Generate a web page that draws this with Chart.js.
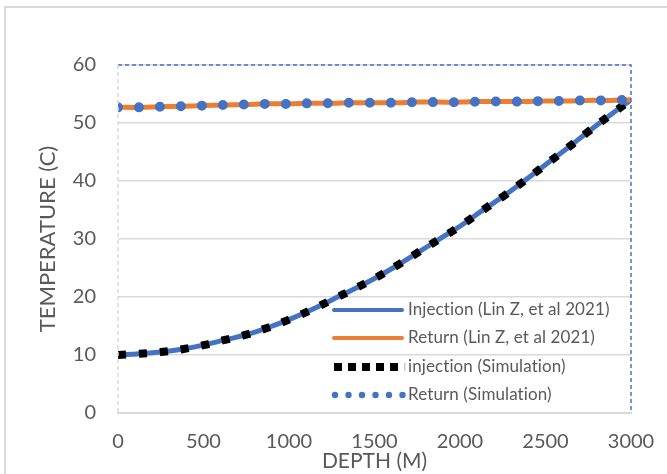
<!DOCTYPE html>
<html>
<head>
<meta charset="utf-8">
<script src="https://cdn.jsdelivr.net/npm/chart.js@4"></script>
<style>
  html, body { margin: 0; padding: 0; background: #fff; }
  #wrap { width: 667px; height: 474px; }
</style>
</head>
<body>
<div id="wrap"><canvas id="myChart" width="667" height="474"></canvas></div>
<script>
var depth = [0, 125, 250, 375, 500, 625, 750, 875, 1000, 1125, 1250, 1375, 1500,
             1625, 1750, 1875, 2000, 2125, 2250, 2375, 2500, 2625, 2750, 2875, 3000];

// Lin Z, et al 2021
var injectionLin = [10.0, 10.2, 10.5, 11.0, 11.7, 12.6, 13.5, 14.7, 16.1, 17.7, 19.5, 21.3, 23.2,
                    25.3, 27.6, 29.9, 32.2, 34.8, 37.3, 40.0, 42.8, 45.6, 48.5, 51.3, 54.0];
var returnLin = [52.7, 52.7, 52.8, 52.9, 53.0, 53.1, 53.2, 53.3, 53.3, 53.4, 53.4, 53.5, 53.5,
                 53.5, 53.6, 53.6, 53.6, 53.7, 53.7, 53.7, 53.8, 53.8, 53.9, 53.9, 54.0];

// Simulation
var injectionSim = [10.0, 10.2, 10.5, 11.0, 11.7, 12.6, 13.5, 14.7, 16.1, 17.7, 19.5, 21.3, 23.2,
                    25.3, 27.6, 29.9, 32.2, 34.8, 37.3, 40.0, 42.8, 45.6, 48.5, 51.3, 54.0];
var returnSim = [52.7, 52.7, 52.8, 52.9, 53.0, 53.1, 53.2, 53.3, 53.3, 53.4, 53.4, 53.5, 53.5,
                 53.5, 53.6, 53.6, 53.6, 53.7, 53.7, 53.7, 53.8, 53.8, 53.9, 53.9, 54.0];

var xTicks = [0, 500, 1000, 1500, 2000, 2500, 3000];
var yTicks = [0, 10, 20, 30, 40, 50, 60];

function pts(ys) {
    return depth.map(function (d, i) { return { x: d, y: ys[i] }; });
}

var fontFamily = "Lato, 'Open Sans', sans-serif";
var textColor = "#595959";

var data = {
    datasets: [
        {
            label: "Injection (Lin Z, et al 2021)",
            data: pts(injectionLin),
            borderColor: "#4472C4",
            borderWidth: 5,
            pointRadius: 0,
            tension: 0.4,
            order: 4
        },
        {
            label: "Return (Lin Z, et al 2021)",
            data: pts(returnLin),
            borderColor: "#ED7D31",
            borderWidth: 5,
            pointRadius: 0,
            tension: 0.4,
            order: 3
        },
        {
            label: "injection (Simulation)",
            data: pts(injectionSim),
            borderColor: "#000000",
            borderWidth: 8,
            borderDash: [8, 13],
            borderCapStyle: "butt",
            pointRadius: 0,
            tension: 0.4,
            order: 2
        },
        {
            label: "Return (Simulation)",
            data: pts(returnSim),
            borderColor: "#4472C4",
            borderWidth: 10,
            borderDash: [0, 21],
            borderCapStyle: "round",
            pointRadius: 0,
            tension: 0.4,
            order: 1
        }
    ]
};

// frame, dashed plot border and the legend sitting inside the plot
var decorations = {
    id: "decorations",
    beforeDraw: function (chart) {
        var c = chart.ctx;
        c.save();
        c.fillStyle = "#fff";
        c.fillRect(0, 0, chart.width, chart.height);
        c.strokeStyle = "#d9d9d9";
        c.lineWidth = 2;
        c.beginPath();
        c.moveTo(5, chart.height);
        c.lineTo(5, 7);
        c.lineTo(chart.width, 7);
        c.stroke();
        c.restore();
    },
    afterDraw: function (chart) {
        var c = chart.ctx;
        var a = chart.chartArea;
        c.save();
        c.setLineDash([4, 3]);
        c.lineWidth = 1.5;
        c.strokeStyle = "#4472C4";
        c.beginPath();
        c.moveTo(a.left, a.top);
        c.lineTo(a.right, a.top);
        c.lineTo(a.right, a.bottom);
        c.stroke();
        c.strokeStyle = "#d4dbe8";
        c.beginPath();
        c.moveTo(a.left, a.top);
        c.lineTo(a.left, a.bottom);
        c.stroke();

        // legend
        var rows = [310, 338, 367, 395];
        var x0 = 332, x1 = 402, tx = 408;
        c.font = "17px " + fontFamily;
        c.letterSpacing = "0.1px";
        c.textBaseline = "middle";
        chart.data.datasets.forEach(function (ds, i) {
            var y = rows[i];
            c.save();
            c.setLineDash([]);
            c.strokeStyle = ds.borderColor;
            if (i < 2) {
                c.lineWidth = 4;
                c.lineCap = "round";
                c.beginPath(); c.moveTo(x0 + 2, y); c.lineTo(x1, y); c.stroke();
            } else if (i === 2) {
                c.fillStyle = "#000";
                for (var k = 0; k < 5; k++) c.fillRect(x0 + 2 + k * 14, y - 4, 8, 8);
                c.fillStyle = "#ccc";
                c.fillRect(x0 + 2 + 5 * 14, y - 4, 1.5, 8);
            } else {
                c.fillStyle = ds.borderColor;
                for (var k = 0; k < 6; k++) {
                    c.beginPath(); c.arc(x0 + 3 + k * 13.5, y, 3.2, 0, Math.PI * 2); c.fill();
                }
            }
            c.restore();
            c.fillStyle = textColor;
            c.fillText(ds.label, tx, y);
        });
        c.restore();
    }
};

var ctx = document.getElementById("myChart").getContext("2d");
var myLineChart = new Chart(ctx, {
    type: "line",
    data: data,
    plugins: [decorations],
    options: {
        responsive: false,
        animation: false,
        layout: { padding: { left: 5, right: 36, top: 65, bottom: 0 } },
        plugins: {
            legend: { display: false },
            tooltip: { enabled: false }
        },
        scales: {
            x: {
                type: "linear",
                min: 0,
                max: 3000,
                afterBuildTicks: function (s) { s.ticks = xTicks.map(function (v) { return { value: v }; }); },
                afterFit: function (s) { s.height = 474 - 413; },
                grid: { display: false },
                border: { color: "#d9d9d9", width: 2 },
                ticks: {
                    color: textColor,
                    font: { family: fontFamily, size: 20 },
                    padding: 9,
                    maxRotation: 0,
                    callback: function (v) { return String(v); }
                },
                title: {
                    display: true,
                    text: "DEPTH (M)",
                    color: textColor,
                    font: { family: fontFamily, size: 21 },
                    padding: { top: 0, bottom: 0 }
                }
            },
            y: {
                min: 0,
                max: 60,
                afterBuildTicks: function (s) { s.ticks = yTicks.map(function (v) { return { value: v }; }); },
                afterFit: function (s) { s.width = 118 - 5; },
                grid: { color: "#d9d9d9", lineWidth: 1.5, drawTicks: false },
                border: { display: false },
                ticks: { color: textColor, font: { family: fontFamily, size: 20 }, padding: 22 },
                title: {
                    display: true,
                    text: "TEMPERATURE (C)",
                    color: textColor,
                    font: { family: fontFamily, size: 22 },
                    padding: { top: 30, bottom: 0 }
                }
            }
        }
    }
});
</script>
</body>
</html>
